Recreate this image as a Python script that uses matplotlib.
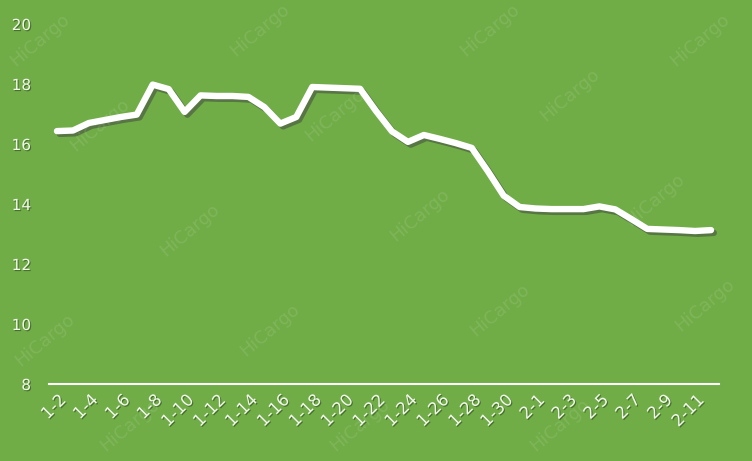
import matplotlib
matplotlib.use("Agg")
import matplotlib.pyplot as plt
import matplotlib.patheffects as pe

categories = (["1-%d" % d for d in range(2, 32)] +
              ["2-%d" % d for d in range(1, 13)])
values = [16.43, 16.45, 16.70, 16.80, 16.90, 16.98, 17.98, 17.83, 17.07, 17.62,
          17.60, 17.60, 17.57, 17.23, 16.68, 16.90, 17.90, 17.88, 17.86, 17.84,
          17.10, 16.42, 16.07, 16.30, 16.17, 16.03, 15.87, 15.10, 14.28, 13.90,
          13.85, 13.83, 13.83, 13.83, 13.92, 13.82, 13.50, 13.17, 13.15, 13.13,
          13.10, 13.13]
y_ticks = [8, 10, 12, 14, 16, 18, 20]

bg = "#70AD47"
txt = "#F0F6EA"

fig = plt.figure(figsize=(7.52, 4.61), dpi=100, facecolor=bg)
ax = fig.add_axes([49/752, 77/461, 670/752, 360/461])
ax.set_facecolor(bg)

# watermarks
wm = [(40, 40), (260, 30), (490, 30), (700, 40), (100, 125), (335, 115),
      (570, 95), (190, 230), (420, 215), (655, 200), (45, 340), (270, 330),
      (500, 310), (705, 305), (130, 425), (360, 425), (560, 425)]
for (x, y) in wm:
    fig.text(x/752, 1 - y/461, "HiCargo", rotation=40, fontsize=13,
             color="white", alpha=0.1, ha="center", va="center",
             family="DejaVu Sans")

xs = list(range(len(categories)))
ax.plot(xs, values, color="white", lw=4.6, solid_capstyle="round",
        solid_joinstyle="round",
        path_effects=[pe.SimpleLineShadow(offset=(2, -2), shadow_color="#404040", alpha=0.5),
                      pe.Normal()], zorder=3)

ax.set_xlim(-0.5, len(categories) - 0.5)
ax.set_ylim(8, 20)
ax.set_yticks(y_ticks)
ax.set_yticklabels([str(v) for v in y_ticks])
ax.set_xticks(xs[::2])
ax.set_xticklabels(categories[::2], rotation=45, ha="right", va="top",
                   rotation_mode="anchor", fontsize=12)

for s in ["top", "right", "left"]:
    ax.spines[s].set_visible(False)
ax.spines["bottom"].set_color("white")
ax.spines["bottom"].set_linewidth(1.5)
ax.tick_params(axis="y", length=0, colors=txt, labelsize=11, pad=13)
ax.tick_params(axis="x", length=0, colors=txt, pad=5)
shadow = [pe.withSimplePatchShadow(offset=(0.8, -0.8), shadow_rgbFace="black", alpha=0.35)]
for lab in ax.get_xticklabels() + ax.get_yticklabels():
    lab.set_path_effects(shadow)
    lab.set_color(txt)

fig.savefig("out.png", dpi=100, facecolor=bg)
